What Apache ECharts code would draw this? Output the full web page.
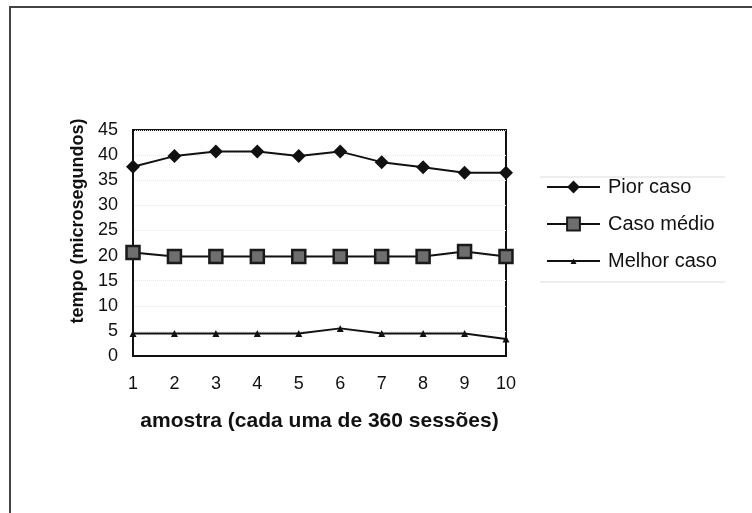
<!DOCTYPE html>
<html>
<head>
<meta charset="utf-8">
<script src="https://cdn.jsdelivr.net/npm/echarts@6/dist/echarts.min.js"></script>
<style>
  html, body { margin: 0; padding: 0; background: #fff; }
  #main { width: 752px; height: 513px; }
</style>
</head>
<body>
<div id="main"></div>
<script>
// amostras 1..10
var amostras = ['1', '2', '3', '4', '5', '6', '7', '8', '9', '10'];
// tempos (microsegundos)
var piorCaso = [37.7, 39.8, 40.7, 40.7, 39.8, 40.7, 38.6, 37.6, 36.5, 36.5];
var casoMedio = [20.6, 19.8, 19.8, 19.8, 19.8, 19.8, 19.8, 19.8, 20.8, 19.8];
var melhorCaso = [4.5, 4.5, 4.5, 4.5, 4.5, 5.5, 4.5, 4.5, 4.5, 3.4];
var nomes = ['Pior caso', 'Caso médio', 'Melhor caso'];

var fonte = '"Liberation Sans", Arial, sans-serif';
var chart = echarts.init(document.getElementById('main'));

// icone da legenda do melhor caso: linha com triangulo pequeno
var iconeMelhor = 'path://M0,0L0.01,0L0,0.01Z M0,7L53,7L53,9L0,9Z M23.5,11L26.5,5.5L29.5,11Z M53,16L52.99,16L53,15.99Z';

var option = {
    animation: false,
    backgroundColor: '#fff',
    textStyle: { fontFamily: fonte, color: '#111' },
    grid: {
        left: 133,
        right: 246,
        top: 130,
        bottom: 157,
        show: true,
        borderColor: '#111',
        borderWidth: 2
    },
    legend: {
        orient: 'vertical',
        left: 541,
        top: 172,
        itemWidth: 53,
        itemHeight: 16,
        itemGap: 17,
        data: [
            { name: nomes[0] },
            { name: nomes[1] },
            { name: nomes[2], icon: iconeMelhor, itemStyle: { color: '#111' } }
        ],
        textStyle: { fontSize: 20, color: '#111', fontFamily: fonte, padding: [0, 0, 0, 3] }
    },
    xAxis: {
        type: 'category',
        data: amostras,
        boundaryGap: false,
        axisLine: { lineStyle: { color: '#111', width: 2 } },
        axisTick: { show: false },
        axisLabel: { fontSize: 18, color: '#111', margin: 19 },
        name: 'amostra (cada uma de 360 sessões)',
        nameLocation: 'middle',
        nameGap: 55,
        nameTextStyle: { fontSize: 21, fontWeight: 'bold', color: '#111' }
    },
    yAxis: {
        type: 'value',
        min: 0,
        max: 45,
        interval: 5,
        axisLine: { show: true, lineStyle: { color: '#111', width: 2 } },
        axisTick: { show: false },
        axisLabel: { fontSize: 18, color: '#111', margin: 15 },
        splitLine: { show: true, lineStyle: { color: '#e8e8e8', type: 'dotted' } },
        name: 'tempo (microsegundos)',
        nameLocation: 'middle',
        nameGap: 46,
        nameTextStyle: { fontSize: 18, fontWeight: 'bold', color: '#111', padding: [0, 0, 0, 44] }
    },
    graphic: [
        // moldura externa (so topo e lado esquerdo aparecem)
        {
            type: 'polyline',
            shape: { points: [[10, 513], [10, 7], [752, 7]] },
            style: { stroke: '#444', lineWidth: 2, fill: null }
        },
        // linhas claras da caixa da legenda
        {
            type: 'line',
            shape: { x1: 540, y1: 177, x2: 725, y2: 177 },
            style: { stroke: '#dcdcdc', lineWidth: 1 }
        },
        {
            type: 'line',
            shape: { x1: 540, y1: 282, x2: 725, y2: 282 },
            style: { stroke: '#dcdcdc', lineWidth: 1 }
        }
    ],
    series: [
        {
            name: nomes[0],
            type: 'line',
            data: piorCaso,
            symbol: 'diamond',
            symbolSize: 14,
            lineStyle: { color: '#111', width: 2 },
            itemStyle: { color: '#111' }
        },
        {
            name: nomes[1],
            type: 'line',
            data: casoMedio,
            symbol: 'rect',
            symbolSize: 13,
            lineStyle: { color: '#111', width: 2 },
            itemStyle: { color: '#6e6e6e', borderColor: '#1a1a1a', borderWidth: 2.5 }
        },
        {
            name: nomes[2],
            type: 'line',
            data: melhorCaso,
            symbol: 'triangle',
            symbolSize: 7,
            lineStyle: { color: '#111', width: 2 },
            itemStyle: { color: '#111' }
        }
    ]
};

chart.setOption(option);
</script>
</body>
</html>
